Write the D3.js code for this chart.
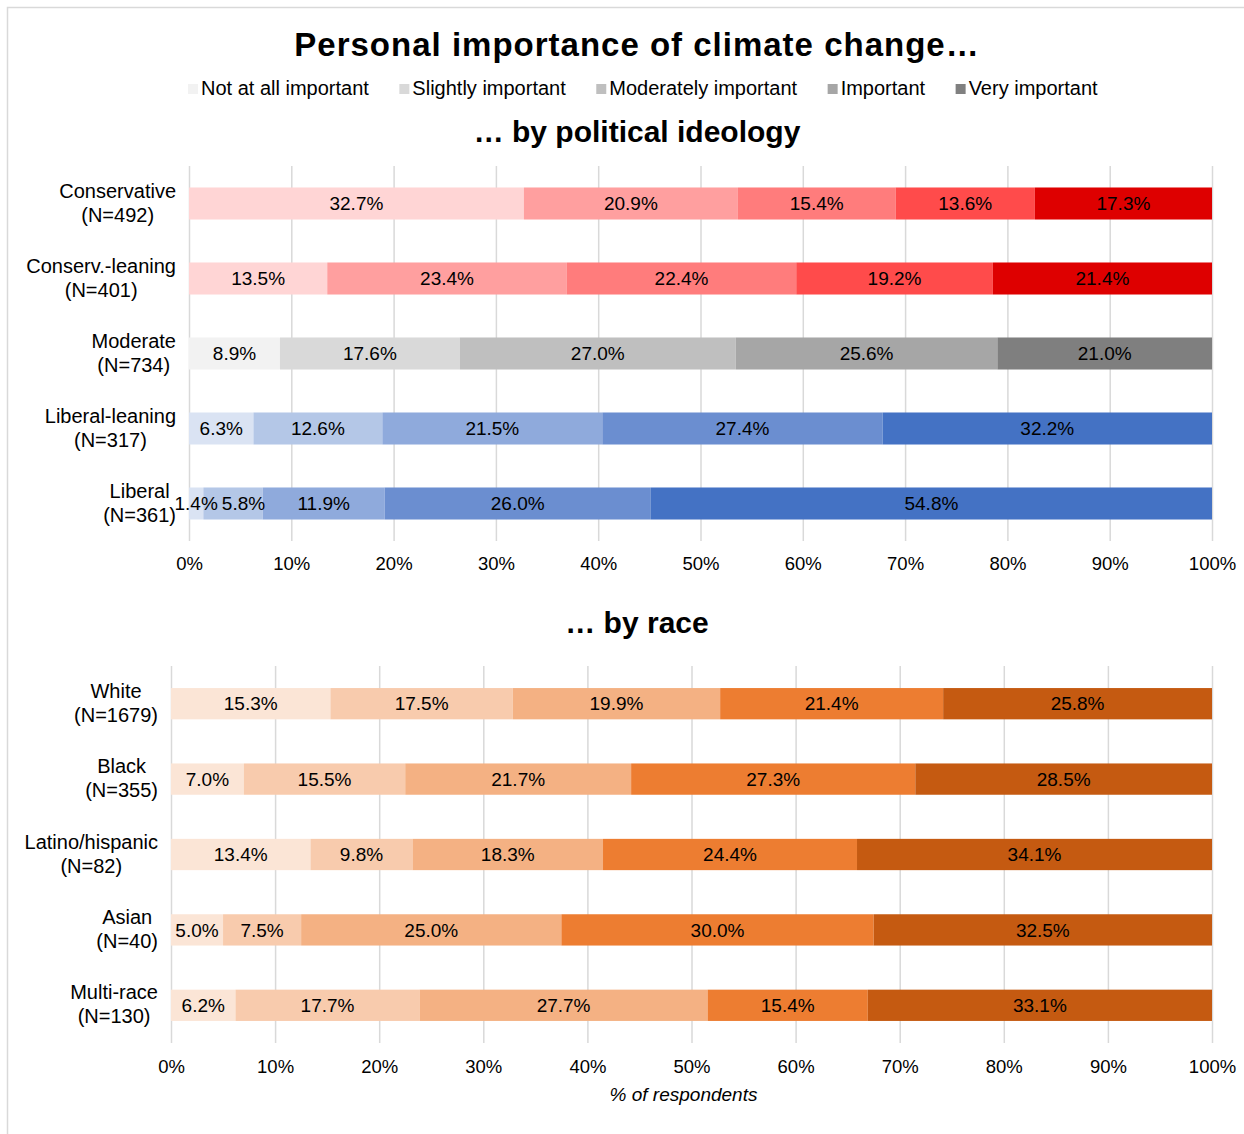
<!DOCTYPE html>
<html>
<head>
<meta charset="utf-8">
<script src="https://cdn.jsdelivr.net/npm/d3@7/dist/d3.min.js"></script>
<style>
  html, body { margin: 0; padding: 0; background: #fff; }
  svg { display: block; font-family: "Liberation Sans", Arial, sans-serif; }
</style>
</head>
<body>
<svg id="chart" width="1244" height="1134"></svg>
<script>
// Response levels (stack order, left to right)
const levels = ["Not at all important", "Slightly important", "Moderately important", "Important", "Very important"];
const legendColors = ["#f2f2f2", "#d9d9d9", "#bfbfbf", "#a6a6a6", "#808080"];

// Panel 1: political ideology
const ideologyCategories = ["Conservative", "Conserv.-leaning", "Moderate", "Liberal-leaning", "Liberal"];
const ideologyN = [492, 401, 734, 317, 361];
const ideologyValues = [
  [32.7, 20.9, 15.4, 13.6, 17.3],
  [13.5, 23.4, 22.4, 19.2, 21.4],
  [8.9, 17.6, 27.0, 25.6, 21.0],
  [6.3, 12.6, 21.5, 27.4, 32.2],
  [1.4, 5.8, 11.9, 26.0, 54.8]
];
const ideologyPalettes = [
  ["#ffd5d5", "#ff9f9f", "#ff7c7c", "#ff4b4b", "#de0000"],
  ["#ffd5d5", "#ff9f9f", "#ff7c7c", "#ff4b4b", "#de0000"],
  ["#f2f2f2", "#d9d9d9", "#bfbfbf", "#a6a6a6", "#7f7f7f"],
  ["#dae3f3", "#b4c7e7", "#8faadc", "#6b8ed0", "#4472c4"],
  ["#dae3f3", "#b4c7e7", "#8faadc", "#6b8ed0", "#4472c4"]
];

// Panel 2: race
const raceCategories = ["White", "Black", "Latino/hispanic", "Asian", "Multi-race"];
const raceN = [1679, 355, 82, 40, 130];
const raceValues = [
  [15.3, 17.5, 19.9, 21.4, 25.8],
  [7.0, 15.5, 21.7, 27.3, 28.5],
  [13.4, 9.8, 18.3, 24.4, 34.1],
  [5.0, 7.5, 25.0, 30.0, 32.5],
  [6.2, 17.7, 27.7, 15.4, 33.1]
];
const racePalette = ["#fbe5d6", "#f8cbad", "#f4b183", "#ed7d31", "#c55a11"];

const tickValues = [0, 0.1, 0.2, 0.3, 0.4, 0.5, 0.6, 0.7, 0.8, 0.9, 1.0];

const svg = d3.select("#chart");
const W = 1244;

// outer frame
svg.append("rect")
  .attr("x", 7.5).attr("y", 7.5)
  .attr("width", W).attr("height", 1140)
  .attr("fill", "none").attr("stroke", "#d9d9d9").attr("stroke-width", 1.5);

// title
svg.append("text")
  .attr("x", 637).attr("y", 56)
  .attr("text-anchor", "middle")
  .attr("font-size", 33).attr("font-weight", "bold")
  .attr("letter-spacing", 1)
  .attr("fill", "#000")
  .text("Personal importance of climate change\u2026");

// legend
const legend = svg.append("g");
let lx = 188;
levels.forEach((lv, i) => {
  legend.append("rect")
    .attr("x", lx).attr("y", 84).attr("width", 10).attr("height", 10)
    .attr("fill", legendColors[i]);
  const t = legend.append("text")
    .attr("x", lx + 13).attr("y", 95)
    .attr("font-size", 20).attr("fill", "#000")
    .text(lv);
  lx += 13 + t.node().getComputedTextLength() + 30.5;
});

function panel(opts) {
  const { categories, ns, values, colorFor, x0, x1, y0, y1, padInner, subtitle, subtitleY, tickY } = opts;

  const x = d3.scaleLinear().domain([0, 1]).range([x0, x1]);
  const y = d3.scaleBand().domain(categories).range([y0, y1])
    .paddingInner(padInner).paddingOuter(padInner / 2);

  // rows as objects so d3.stack can expand them to 100%
  const rows = categories.map((c, i) => {
    const o = { category: c };
    levels.forEach((lv, j) => { o[lv] = values[i][j]; });
    return o;
  });
  const series = d3.stack().keys(levels).offset(d3.stackOffsetExpand)(rows);

  const g = svg.append("g");

  svg.append("text")
    .attr("x", 637).attr("y", subtitleY)
    .attr("text-anchor", "middle")
    .attr("font-size", 30).attr("font-weight", "bold").attr("fill", "#000")
    .text(subtitle);

  // vertical gridlines
  const axis = d3.axisBottom(x).tickValues(tickValues)
    .tickFormat(d3.format(".0%"))
    .tickSize(-(y1 - y0)).tickPadding(0);
  const ax = g.append("g").attr("transform", `translate(0,${y1})`).call(axis);
  ax.select(".domain").remove();
  ax.selectAll(".tick line").attr("stroke", "#d9d9d9").attr("stroke-width", 1.5);
  ax.selectAll(".tick text")
    .attr("y", tickY - y1).attr("dy", 0)
    .attr("font-size", 18.5).attr("font-family", "Liberation Sans, Arial, sans-serif")
    .attr("fill", "#000");

  // stacked bars
  series.forEach((s, j) => {
    g.append("g").selectAll("rect")
      .data(s)
      .join("rect")
      .attr("x", d => x(d[0]))
      .attr("y", d => y(d.data.category))
      .attr("width", d => x(d[1]) - x(d[0]))
      .attr("height", y.bandwidth())
      .attr("fill", (d, i) => colorFor(i, j));
  });

  // value labels, nudged right when they would collide with the previous one
  categories.forEach((c, i) => {
    let prevRight = -Infinity;
    series.forEach((s, j) => {
      const d = s[i];
      const cy = y(c) + y.bandwidth() / 2;
      let cx = (x(d[0]) + x(d[1])) / 2;
      const t = g.append("text")
        .attr("y", cy + 6.7)
        .attr("text-anchor", "middle")
        .attr("font-size", 19).attr("fill", "#000")
        .text(values[i][j].toFixed(1) + "%");
      const w = t.node().getComputedTextLength();
      if (cx - w / 2 < prevRight + 4) cx = prevRight + 4 + w / 2;
      t.attr("x", cx);
      prevRight = cx + w / 2;
    });
  });

  // category labels: two centred lines, block right-aligned to the plot
  categories.forEach((c, i) => {
    const cy = y(c) + y.bandwidth() / 2;
    const lg = g.append("g");
    const t1 = lg.append("text").attr("y", cy - 6).attr("text-anchor", "middle")
      .attr("font-size", 20).attr("fill", "#000").text(c);
    const t2 = lg.append("text").attr("y", cy + 18).attr("text-anchor", "middle")
      .attr("font-size", 20).attr("fill", "#000").text(`(N=${ns[i]})`);
    const w = Math.max(t1.node().getComputedTextLength(), t2.node().getComputedTextLength());
    const cx = x0 - 13 - w / 2;
    t1.attr("x", cx);
    t2.attr("x", cx);
  });

  return x;
}

panel({
  categories: ideologyCategories, ns: ideologyN, values: ideologyValues,
  colorFor: (i, j) => ideologyPalettes[i][j],
  x0: 189, x1: 1212, y0: 166, y1: 541, padInner: 0.573,
  subtitle: "\u2026 by political ideology", subtitleY: 142, tickY: 570
});

const xr = panel({
  categories: raceCategories, ns: raceN, values: raceValues,
  colorFor: (i, j) => racePalette[j],
  x0: 171, x1: 1212, y0: 666, y1: 1043, padInner: 0.585,
  subtitle: "\u2026 by race", subtitleY: 633, tickY: 1073
});

svg.append("text")
  .attr("x", (xr(0) + xr(1)) / 2 - 8).attr("y", 1101)
  .attr("text-anchor", "middle")
  .attr("font-size", 19).attr("font-style", "italic").attr("fill", "#000")
  .text("% of respondents");
</script>
</body>
</html>
